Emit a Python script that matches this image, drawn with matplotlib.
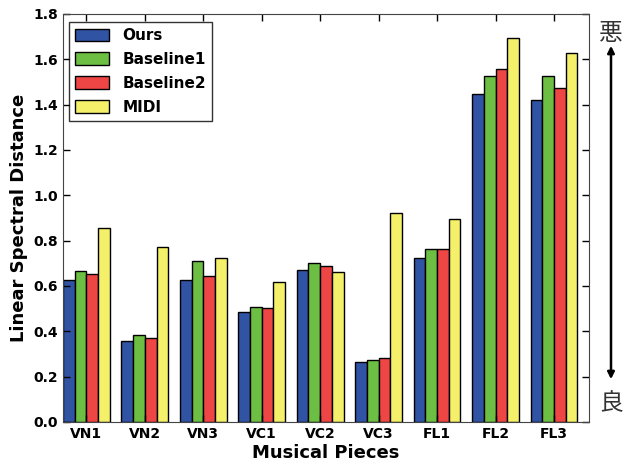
import matplotlib
matplotlib.use("Agg")
import matplotlib.pyplot as plt
import numpy as np

PIECES = ["VN1", "VN2", "VN3", "VC1", "VC2", "VC3", "FL1", "FL2", "FL3"]
OURS = [0.626, 0.356, 0.626, 0.485, 0.670, 0.265, 0.722, 1.445, 1.419]
BASELINE1 = [0.667, 0.385, 0.710, 0.506, 0.700, 0.272, 0.765, 1.525, 1.526]
BASELINE2 = [0.651, 0.369, 0.644, 0.504, 0.687, 0.281, 0.765, 1.556, 1.472]
MIDI = [0.854, 0.773, 0.722, 0.619, 0.660, 0.920, 0.894, 1.692, 1.626]

SERIES = [
    ("Ours", OURS, "#3153a3"),
    ("Baseline1", BASELINE1, "#6dbf43"),
    ("Baseline2", BASELINE2, "#ee4545"),
    ("MIDI", MIDI, "#f5f06a"),
]

plt.rcParams["font.family"] = ["DejaVu Sans"]
plt.rcParams["font.weight"] = "bold"

fig = plt.figure(figsize=(6.32, 4.63), dpi=100)
ax = fig.add_axes([0.0997, 0.0886, 0.8323, 0.8814])

ind = np.arange(len(PIECES))
width = 0.2
for k, (name, values, color) in enumerate(SERIES):
    ax.bar(ind + k * width, values, width, color=color, edgecolor="black",
           linewidth=1.0, label=name, align="edge")

ax.set_xlim(0, len(PIECES))
ax.set_ylim(0, 1.8)
ax.set_xticks(ind + 2 * width)
ax.set_xticklabels(PIECES, fontweight="bold", fontsize=10)
ax.set_yticks(np.arange(0, 1.81, 0.2))
ax.set_yticklabels([f"{v:.1f}" for v in np.arange(0, 1.81, 0.2)],
                   fontweight="bold", fontsize=10)
ax.tick_params(direction="in", top=True, right=True, length=5, width=1)
for spine in ax.spines.values():
    spine.set_color("#444444")

ax.set_xlabel("Musical Pieces", fontweight="bold", fontsize=13, labelpad=2)
ax.set_ylabel("Linear Spectral Distance", fontweight="bold", fontsize=13)

legend = ax.legend(loc="upper left", fancybox=False, fontsize=11,
                   handlelength=2.2, handleheight=0.9, borderpad=0.4,
                   labelspacing=0.58, handletextpad=0.9, borderaxespad=0.4,
                   bbox_to_anchor=(0.0, 0.995))
legend.get_frame().set_edgecolor("black")
for text in legend.get_texts():
    text.set_fontweight("bold")

# quality direction arrow on the right
fig.patches.append(matplotlib.patches.FancyArrowPatch(
    (611 / 632, 1 - 382 / 463), (611 / 632, 1 - 43 / 463),
    transform=fig.transFigure, arrowstyle="<|-|>", mutation_scale=10,
    color="black", linewidth=1.8))
fig.text(611 / 632, 1 - 33 / 463, "悪", ha="center", va="center",
         fontsize=17, family=["Noto Sans CJK JP", "DejaVu Sans"],
         fontweight="normal", color="#333333")
fig.text(611 / 632, 1 - 404 / 463, "良", ha="center", va="center",
         fontsize=17, family=["Noto Sans CJK JP", "DejaVu Sans"],
         fontweight="normal", color="#333333")

fig.savefig("out.png", dpi=100)
